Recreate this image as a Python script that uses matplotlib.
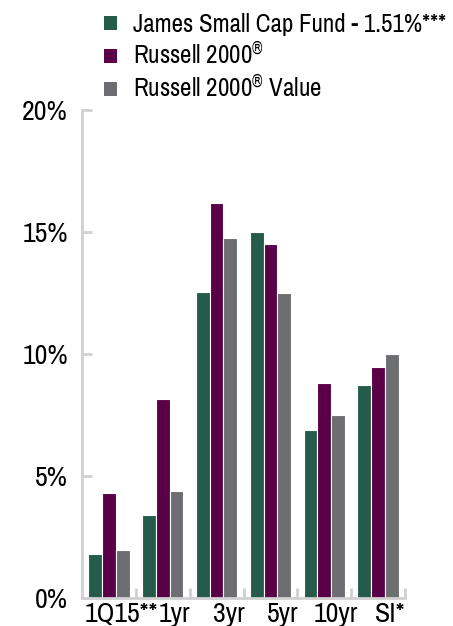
import numpy as np
import matplotlib
matplotlib.use("Agg")
import matplotlib.pyplot as plt
from matplotlib.patches import Patch
from matplotlib.transforms import ScaledTranslation

periods = ["1Q15**", "1yr", "3yr", "5yr", "10yr", "SI*"]
james_fund = [1.8, 3.4, 12.55, 15.0, 6.9, 8.75]
russell_2000 = [4.3, 8.15, 16.2, 14.5, 8.8, 9.45]
russell_2000_value = [1.95, 4.4, 14.75, 12.5, 7.5, 10.0]

series_labels = [
    "James Small Cap Fund - 1.51%***",
    "Russell 2000$^{®}$",
    "Russell 2000$^{®}$ Value",
]
colors = ["#255b4b", "#5a0048", "#6d6e71"]
axis_grey = "#d0d0d2"

plt.rcParams["font.family"] = ["Archivo Narrow", "DejaVu Sans"]
plt.rcParams["mathtext.fontset"] = "custom"
plt.rcParams["mathtext.rm"] = "Archivo Narrow"

fig = plt.figure(figsize=(4.53, 6.26), dpi=100)
ax = fig.add_axes([82 / 453, 28 / 626, 323 / 453, 488 / 626])

x = np.arange(len(periods)) + 0.5
width = 0.255
for offset, values, color in zip(
    (-width, 0, width), (james_fund, russell_2000, russell_2000_value), colors
):
    ax.bar(x + offset, values, width=width, color=color,
           edgecolor="white", linewidth=0.8)

ax.set_xlim(0, len(periods))
ax.set_ylim(0, 20)
ax.set_yticks([0, 5, 10, 15, 20])
ax.set_yticklabels(["0%", "5%", "10%", "15%", "20%"], fontsize=20)

ax.set_xticks(x)
ax.set_xticklabels(periods, fontsize=20)
ax.set_xticks(np.arange(1, len(periods) + 1), minor=True)
ax.tick_params(axis="x", which="major", length=0, pad=3)
ax.tick_params(axis="x", which="minor", direction="in", length=7,
               width=2, color=axis_grey)
ax.tick_params(axis="y", direction="in", length=7, width=2,
               color=axis_grey, pad=10)
for label in ax.get_xticklabels():
    label.set_transform(label.get_transform()
                        + ScaledTranslation(0.12, 0, fig.dpi_scale_trans))

for side in ("top", "right"):
    ax.spines[side].set_visible(False)
for side in ("left", "bottom"):
    ax.spines[side].set_color(axis_grey)
    ax.spines[side].set_linewidth(2)

handles = [Patch(facecolor=c, edgecolor="none") for c in colors]
fig.legend(handles, series_labels, loc="upper left",
           bbox_to_anchor=(104 / 453, 1 - 13 / 626), frameon=False, fontsize=18,
           handlelength=0.5, handleheight=0.5, handletextpad=0.65,
           labelspacing=0.22, borderpad=0, borderaxespad=0)

fig.savefig("out.png", dpi=100)
